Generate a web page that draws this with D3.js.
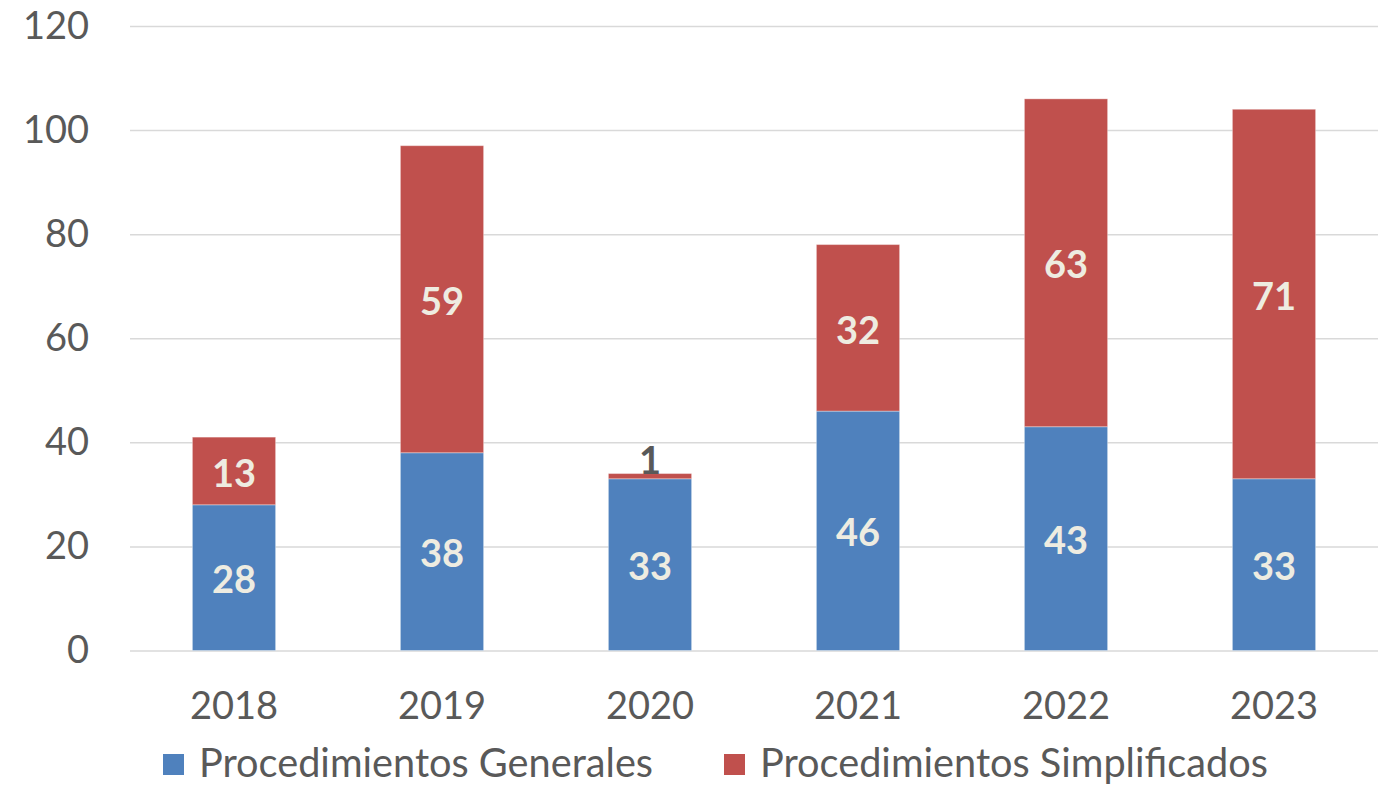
<!DOCTYPE html>
<html>
<head>
<meta charset="utf-8">
<script src="https://cdn.jsdelivr.net/npm/d3@7"></script>
<style>
  body { margin: 0; background: #fff; }
  text { font-family: Lato, "Open Sans", sans-serif; }
</style>
</head>
<body>
<div id="chart"></div>
<script>
// data
const years = ["2018", "2019", "2020", "2021", "2022", "2023"];
const generales = [28, 38, 33, 46, 43, 33];
const simplificados = [13, 59, 1, 32, 63, 71];
const seriesNames = ["Procedimientos Generales", "Procedimientos Simplificados"];
const yTicks = [0, 20, 40, 60, 80, 100, 120];

const W = 1383, H = 785;
const margin = { top: 26, right: 5, bottom: 134.5, left: 130 };
const width = W - margin.left - margin.right,
  height = H - margin.top - margin.bottom;

const colors = ["#4F81BD", "#C0504D"];

const x = d3.scaleBand().domain(years).range([0, width])
  .paddingInner(0.6).paddingOuter(0.3);
const y = d3.scaleLinear().domain([0, 120]).range([height, 0]);

const svg = d3.select("#chart").append("svg")
  .attr("width", W).attr("height", H);
const g = svg.append("g")
  .attr("transform", "translate(" + margin.left + "," + margin.top + ")");

// gridlines + y labels
const yAxis = g.append("g")
  .call(d3.axisLeft(y).tickValues(yTicks).tickSize(-width).tickPadding(41));
yAxis.select(".domain").remove();
yAxis.selectAll("line").attr("stroke", "#D9D9D9").attr("stroke-width", 1.5);
yAxis.selectAll("text")
  .attr("fill", "#595959").attr("font-size", 38)
  .attr("font-family", "Lato, 'Open Sans', sans-serif");

// x labels
const xAxis = g.append("g")
  .attr("transform", "translate(0," + height + ")")
  .call(d3.axisBottom(x).tickSize(0).tickPadding(42));
xAxis.select(".domain").remove();
xAxis.selectAll("text")
  .attr("fill", "#595959").attr("font-size", 38)
  .attr("font-family", "Lato, 'Open Sans', sans-serif");

// stacked data
const table = years.map((yr, i) => ({ year: yr, gen: generales[i], simp: simplificados[i] }));
const stack = d3.stack().keys(["gen", "simp"])(table);

const layers = g.selectAll(".layer").data(stack).enter().append("g")
  .attr("class", "layer")
  .attr("fill", (d, i) => colors[i]);

layers.selectAll("rect").data(d => d).enter().append("rect")
  .attr("x", d => x(d.data.year))
  .attr("y", d => y(d[1]))
  .attr("width", x.bandwidth())
  .attr("height", d => y(d[0]) - y(d[1]))
  .attr("stroke", "rgba(255,255,255,0.35)")
  .attr("stroke-width", 1);

// value labels
layers.each(function (layer) {
  d3.select(this).selectAll("text.val").data(layer).enter().append("text")
    .attr("class", "val")
    .attr("x", d => x(d.data.year) + x.bandwidth() / 2)
    .attr("y", d => {
      const v = d[1] - d[0];
      if (v < 5) return y(d[1]) - 13;
      return (y(d[0]) + y(d[1])) / 2 + 2;
    })
    .attr("dy", "0.36em")
    .attr("text-anchor", "middle")
    .attr("font-size", 38)
    .attr("font-weight", 700)
    .attr("fill", d => (d[1] - d[0] < 5 ? "#595959" : "#EEECE1"))
    .text(d => d[1] - d[0]);
});

// legend
const legendX = [163, 724];
const legend = svg.selectAll(".legend").data(seriesNames).enter().append("g")
  .attr("class", "legend")
  .attr("transform", (d, i) => "translate(" + legendX[i] + ",0)");
legend.append("rect")
  .attr("x", 0).attr("y", 754).attr("width", 21).attr("height", 21)
  .attr("fill", (d, i) => colors[i]);
legend.append("text")
  .attr("x", 36).attr("y", 777)
  .attr("font-size", 39.7)
  .attr("fill", "#595959")
  .text(d => d);
</script>
</body>
</html>
